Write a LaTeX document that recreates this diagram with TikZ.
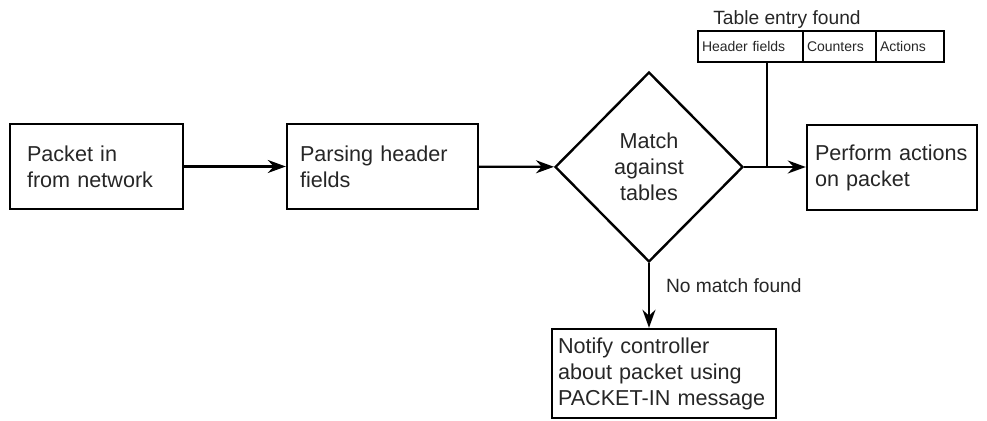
\documentclass[tikz,border=0pt]{standalone}
\usepackage{fontspec}
\setmainfont{Liberation Sans}
\usetikzlibrary{arrows.meta,shapes.geometric}

\begin{document}
\begin{tikzpicture}[x=0.5pt, y=-0.5pt,
	every node/.style={font=\fontsize{10.8}{13}\selectfont, text=black!85},
	stage/.style={draw, line width=1.2pt, minimum height=42.5pt, align=left, inner ysep=0pt},
	cell/.style={draw, line width=1pt, outer sep=0pt, minimum height=15.5pt, inner xsep=2pt, align=left, font=\fontsize{7}{8}\selectfont},
	flow/.style={line width=1.1pt, -{Stealth[length=9pt,width=6.5pt]}}]
	\useasboundingbox (0,0) rectangle (987,421);
	\node[stage, inner xsep=8.5pt, text width=69.5pt] (pkt) at (96.5,166.5) {Packet in\\from network};
	\node[stage, inner xsep=6.5pt, text width=82.5pt] (parse) at (382.5,166.5) {Parsing header\\fields};
	\node[draw, diamond, line width=1.2pt, minimum width=94pt, minimum height=95pt, inner sep=0pt, align=center] (match) at (649,167) {Match\\against\\tables};
	\node[stage, inner xsep=4pt, text width=77pt] (perform) at (892,167.5) {Perform actions\\on packet};
	\node[stage, minimum height=44.5pt, inner xsep=3pt, text width=106pt] (notify) at (664,373.5) {Notify controller\\about packet using\\PACKET-IN message};
	% table entry
	\node[cell, text width=48.5pt] (hdr) at (750.5,46.5) {Header fields};
	\node[cell, text width=32.5pt, anchor=west] (ctr) at (hdr.east) {Counters};
	\node[cell, text width=30pt, anchor=west] (acts) at (ctr.east) {Actions};
	\node[anchor=base, font=\fontsize{9.6}{11}\selectfont] (found) at (787,25) {Table entry found};
	\coordinate (jn) at (767,167);
	\node[anchor=base west, font=\fontsize{9.6}{11}\selectfont] (nomatch) at (659,293) {No match found};
	\draw[flow] (pkt) -- (parse);
	\draw[flow] (parse) -- (match);
	\draw[flow] (match.east) -- (match.east -| perform.west);
	\draw[line width=1.1pt] (jn |- hdr.south) -- (jn |- match.east);
	\draw[flow] (match.south) -- (match.south |- notify.north);
\end{tikzpicture}
\end{document}
